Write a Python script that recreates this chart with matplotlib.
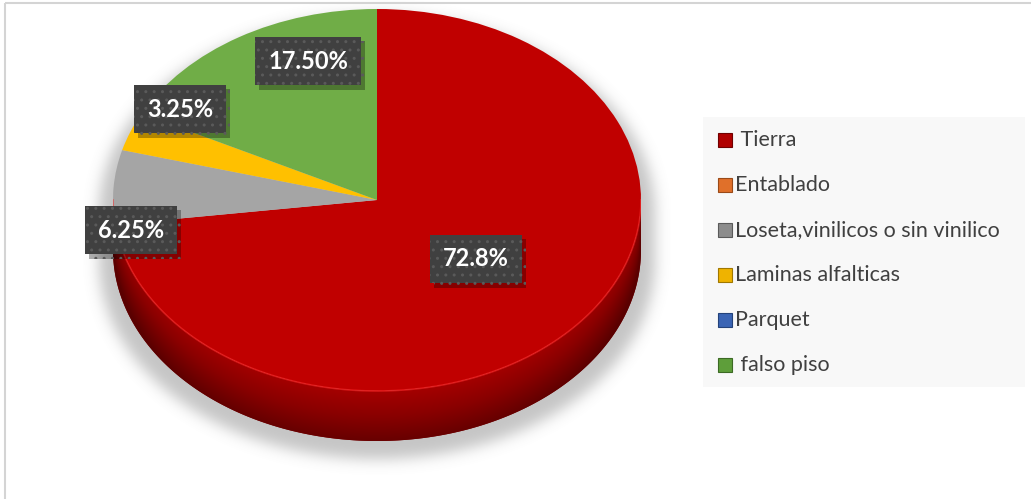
import numpy as np
import matplotlib
matplotlib.use("Agg")
import matplotlib.pyplot as plt
from matplotlib import patheffects
from matplotlib.patches import Polygon, Rectangle
from matplotlib.colors import LinearSegmentedColormap

# ---- data ----
categories = ["Tierra", "Entablado", "Loseta,vinilicos o sin vinilico",
              "Laminas alfalticas", "Parquet", "falso piso"]
shares = [72.8, 0.0, 6.25, 3.25, 0.0, 17.50]
share_labels = ["72.8%", "", "6.25%", "3.25%", "", "17.50%"]
legend_names = [" Tierra", "Entablado", "Loseta,vinilicos o sin vinilico",
                "Laminas alfalticas", "Parquet", " falso piso"]

# ---- style ----
slice_colors = ["#C00000", "#ED7D31", "#A5A5A5", "#FFC000", "#4472C4", "#70AD47"]
legend_colors = ["#B00000", "#E0702A", "#8C8C8C", "#EFB300", "#3A64B4", "#5E9E3A"]
legend_edges = ["#700000", "#9a4a18", "#5a5a5a", "#a07800", "#24427a", "#3c6a24"]
# label anchors (pixel coordinates of the figure)
label_xy = [(476, 259), None, (131, 230), (180, 109), None, (308, 61)]

W, H = 1031, 499
fig = plt.figure(figsize=(W / 100, H / 100), dpi=100)
fig.patch.set_facecolor("white")

bg = fig.add_axes([0, 0, 1, 1])
bg.axis("off")

# pie geometry in pixels: centre, radii and thickness of the disc
cx, cy, rx, ry, depth = 377, 200, 264, 191, 50

# soft drop shadow under the disc
yy, xx = np.mgrid[0:H, 0:W] + 0.5
srx, sry, sdy = rx + 14, ry + 6, 12
u = (xx - cx) / srx
half = sry * np.sqrt(np.clip(1 - u ** 2, 0, None))
mask = ((np.abs(u) <= 1) & (yy >= cy + sdy - half) &
        (yy <= cy + sdy + half + depth)).astype(float)
sigma = 7
k = np.arange(-3 * sigma, 3 * sigma + 1)
kern = np.exp(-k ** 2 / (2 * sigma ** 2))
kern /= kern.sum()
blur = np.apply_along_axis(lambda r: np.convolve(r, kern, mode="same"), 1, mask)
blur = np.apply_along_axis(lambda c: np.convolve(c, kern, mode="same"), 0, blur)
shadow = np.zeros((H, W, 4))
shadow[..., :3] = 0.5
shadow[..., 3] = 0.45 * blur
bg.imshow(shadow, extent=(0, W, H, 0), interpolation="bilinear")
bg.set_aspect("auto")
bg.set_xlim(0, W)
bg.set_ylim(H, 0)

# ---- pie (elliptical top face + extruded side) ----
d = depth / ry
pax = fig.add_axes([(cx - rx) / W, 1 - (cy + ry + depth) / H,
                    2 * rx / W, (2 * ry + depth) / H])

t = np.linspace(np.pi, 2 * np.pi, 300)
rim = np.column_stack([np.cos(t), np.sin(t)])
side = Polygon(np.vstack([rim, (rim - [0, d])[::-1]]), closed=True,
               facecolor="#7a0000", edgecolor="none", zorder=0.5)
pax.add_patch(side)

# shading of the side wall: lighter at the rim, darker at the bottom edge
gx = np.linspace(-1, 1, 400)
gy = np.linspace(-1 - d, 0, 200)
GX, GY = np.meshgrid(gx, gy)
rim_y = -np.sqrt(np.clip(1 - GX ** 2, 0, None))
frac = np.clip((rim_y - GY) / d, 0, 1)
edge_dark = np.abs(GX) ** 3
shade = np.clip(0.15 + 0.7 * frac + 0.25 * edge_dark, 0, 1)
side_cmap = LinearSegmentedColormap.from_list("side", ["#b00000", "#8a0000", "#5a0000"])
img = pax.imshow(shade, extent=(-1, 1, -1 - d, 0), origin="lower", cmap=side_cmap,
                 vmin=0, vmax=1, zorder=0.6, interpolation="bilinear")
img.set_clip_path(side)

wedges, _ = pax.pie(shares, colors=slice_colors, startangle=90, counterclock=False,
                    radius=1, center=(0, 0), wedgeprops=dict(linewidth=0))
for w in wedges:
    w.set_zorder(2)

pax.plot(rim[:, 0], rim[:, 1], color="#ff2a2a", lw=1.2, alpha=0.55, zorder=3)
pax.set_aspect("auto")
pax.set_xlim(-1, 1)
pax.set_ylim(-1 - d, 1)
pax.axis("off")

# ---- overlay: labels, legend, frame ----
top = fig.add_axes([0, 0, 1, 1], zorder=5)
top.set_xlim(0, W)
top.set_ylim(H, 0)
top.axis("off")

box_shadow = [patheffects.SimplePatchShadow(offset=(3, -3), shadow_rgbFace="black",
                                            alpha=0.3),
              patheffects.Normal()]
for lbl, xy in zip(share_labels, label_xy):
    if not lbl or xy is None:
        continue
    x, y = xy
    txt = top.text(x, y, lbl, ha="center", va="center", fontsize=17,
                   fontweight="bold", family="Lato", color="white",
                   bbox=dict(boxstyle="square,pad=0.55", facecolor="#404040",
                             edgecolor="#5a5a5a", linewidth=0, hatch=".."))
    txt.get_bbox_patch().set_path_effects(box_shadow)

# legend panel
top.add_patch(Rectangle((703, 117), 322, 270, facecolor="#f8f8f8",
                        edgecolor="none"))
for i, (name, col, ec) in enumerate(zip(legend_names, legend_colors, legend_edges)):
    y = 140 + 45 * i
    top.add_patch(Rectangle((718, y - 7), 14, 14, facecolor=col,
                            edgecolor=ec, linewidth=0.8))
    top.text(735, y, name, ha="left", va="center", fontsize=15.5,
             family="Lato", color="#404040")

# chart frame
top.plot([5, W], [3, 3], color="#d4d4d4", lw=1.5, solid_capstyle="butt")
top.plot([5, 5], [3, H], color="#d4d4d4", lw=1.5, solid_capstyle="butt")

fig.savefig("out.png", dpi=100, facecolor="white")
